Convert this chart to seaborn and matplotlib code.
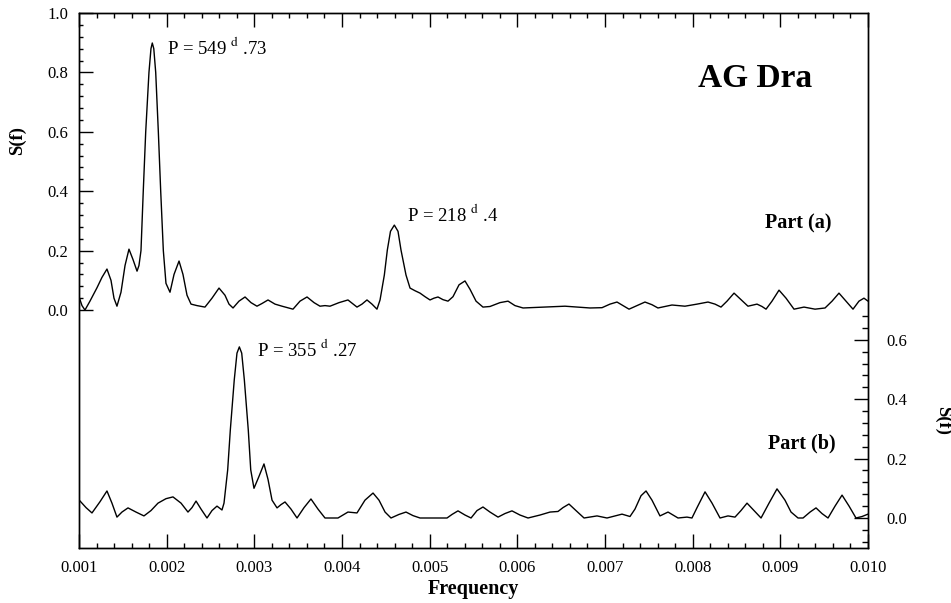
import numpy as np
import pandas as pd
import matplotlib
matplotlib.use("Agg")
import matplotlib.pyplot as plt
from matplotlib.ticker import FixedLocator, FormatStrFormatter
import seaborn as sns

# ---------------- data (frequency in units of 1e-3) ----------------
freq_a = [1.000, 1.034, 1.068, 1.125, 1.205, 1.262, 1.319, 1.365, 1.399, 1.433,
          1.479, 1.525, 1.570, 1.616, 1.662, 1.684, 1.707, 1.733, 1.761, 1.798,
          1.821, 1.836, 1.853, 1.875, 1.905, 1.932, 1.962, 1.992, 2.038, 2.084,
          2.141, 2.186, 2.232, 2.278, 2.346, 2.437, 2.517, 2.597, 2.665, 2.711,
          2.757, 2.825, 2.894, 2.962, 3.030, 3.087, 3.156, 3.236, 3.316, 3.441,
          3.521, 3.601, 3.681, 3.749, 3.806, 3.863, 3.966, 4.068, 4.171, 4.228,
          4.285, 4.342, 4.399, 4.434, 4.483, 4.517, 4.553, 4.597, 4.639, 4.673,
          4.730, 4.776, 4.833, 4.890, 4.947, 5.004, 5.049, 5.095, 5.152, 5.209,
          5.266, 5.335, 5.403, 5.460, 5.529, 5.608, 5.688, 5.802, 5.894, 5.973,
          6.065, 6.293, 6.544, 6.692, 6.829, 6.966, 7.057, 7.137, 7.205, 7.274,
          7.365, 7.456, 7.536, 7.604, 7.764, 7.912, 8.050, 8.175, 8.255, 8.323,
          8.392, 8.472, 8.551, 8.631, 8.734, 8.791, 8.837, 8.905, 8.985, 9.065,
          9.156, 9.270, 9.396, 9.510, 9.590, 9.669, 9.749, 9.829, 9.897, 9.954,
          10.000]
s_a = [0.045, 0.015, 0.000, 0.030, 0.075, 0.110, 0.138, 0.100, 0.040, 0.013,
       0.060, 0.150, 0.205, 0.170, 0.131, 0.150, 0.200, 0.400, 0.600, 0.800,
       0.880, 0.899, 0.880, 0.800, 0.600, 0.400, 0.200, 0.090, 0.060, 0.120,
       0.165, 0.120, 0.050, 0.020, 0.015, 0.010, 0.040, 0.074, 0.050, 0.020,
       0.007, 0.030, 0.044, 0.025, 0.013, 0.022, 0.034, 0.020, 0.013, 0.003,
       0.030, 0.044, 0.025, 0.013, 0.015, 0.013, 0.025, 0.034, 0.010, 0.020,
       0.034, 0.020, 0.003, 0.034, 0.118, 0.202, 0.265, 0.286, 0.265, 0.202,
       0.118, 0.074, 0.065, 0.057, 0.045, 0.034, 0.040, 0.044, 0.035, 0.030,
       0.045, 0.085, 0.098, 0.070, 0.030, 0.010, 0.012, 0.025, 0.030, 0.015,
       0.007, 0.010, 0.013, 0.010, 0.007, 0.008, 0.020, 0.027, 0.015, 0.003,
       0.015, 0.027, 0.018, 0.007, 0.017, 0.013, 0.020, 0.027, 0.020, 0.010,
       0.030, 0.057, 0.035, 0.013, 0.020, 0.012, 0.003, 0.030, 0.067, 0.040,
       0.003, 0.010, 0.003, 0.007, 0.030, 0.057, 0.030, 0.003, 0.030, 0.040,
       0.030]

freq_b = [1.000, 1.080, 1.148, 1.240, 1.319, 1.376, 1.433, 1.490, 1.559, 1.650,
          1.741, 1.821, 1.901, 1.992, 2.072, 2.164, 2.243, 2.289, 2.335, 2.392,
          2.460, 2.517, 2.574, 2.631, 2.654, 2.696, 2.726, 2.771, 2.802, 2.829,
          2.856, 2.886, 2.931, 2.959, 2.996, 3.053, 3.110, 3.156, 3.202, 3.259,
          3.304, 3.350, 3.418, 3.487, 3.567, 3.646, 3.726, 3.806, 3.954, 4.068,
          4.171, 4.262, 4.354, 4.422, 4.491, 4.559, 4.650, 4.730, 4.810, 4.890,
          5.198, 5.255, 5.323, 5.403, 5.472, 5.540, 5.608, 5.688, 5.780, 5.859,
          5.939, 6.030, 6.122, 6.259, 6.373, 6.464, 6.521, 6.589, 6.669, 6.761,
          6.909, 7.023, 7.194, 7.285, 7.342, 7.411, 7.468, 7.536, 7.627, 7.719,
          7.833, 7.935, 7.992, 8.050, 8.141, 8.221, 8.312, 8.403, 8.483, 8.551,
          8.620, 8.700, 8.780, 8.871, 8.962, 9.053, 9.122, 9.202, 9.259, 9.339,
          9.407, 9.475, 9.544, 9.624, 9.704, 9.784, 9.863, 9.932, 10.000]
s_b = [0.061, 0.035, 0.017, 0.055, 0.091, 0.050, 0.003, 0.020, 0.034, 0.020,
       0.007, 0.025, 0.050, 0.065, 0.071, 0.050, 0.020, 0.035, 0.057, 0.030,
       0.000, 0.025, 0.040, 0.027, 0.050, 0.162, 0.296, 0.465, 0.555, 0.576,
       0.555, 0.465, 0.296, 0.162, 0.100, 0.140, 0.182, 0.130, 0.060, 0.034,
       0.045, 0.054, 0.030, 0.000, 0.035, 0.064, 0.030, 0.000, 0.000, 0.020,
       0.017, 0.060, 0.084, 0.060, 0.020, 0.000, 0.012, 0.020, 0.008, 0.000,
       0.000, 0.012, 0.024, 0.010, 0.000, 0.025, 0.037, 0.020, 0.003, 0.015,
       0.024, 0.010, 0.000, 0.010, 0.020, 0.022, 0.035, 0.047, 0.025, 0.000,
       0.007, 0.000, 0.013, 0.005, 0.030, 0.075, 0.091, 0.060, 0.007, 0.020,
       0.000, 0.003, 0.000, 0.035, 0.088, 0.050, 0.000, 0.007, 0.003, 0.025,
       0.050, 0.025, 0.000, 0.050, 0.098, 0.060, 0.020, 0.000, 0.000, 0.020,
       0.034, 0.015, 0.000, 0.040, 0.077, 0.040, 0.000, 0.005, 0.013]

x_ticks = [0.001, 0.002, 0.003, 0.004, 0.005, 0.006, 0.007, 0.008, 0.009, 0.010]
left_ticks = [0.0, 0.2, 0.4, 0.6, 0.8, 1.0]
right_ticks = [0.0, 0.2, 0.4, 0.6]

df_a = pd.DataFrame({"Frequency": np.array(freq_a) * 1e-3, "S": s_a})
df_b = pd.DataFrame({"Frequency": np.array(freq_b) * 1e-3, "S": s_b})

# ---------------- style ----------------
sns.set_theme(style="white")
plt.rcParams["font.family"] = ["Liberation Serif", "DejaVu Serif"]
plt.rcParams["mathtext.fontset"] = "stix"
plt.rcParams["text.color"] = "black"
plt.rcParams["axes.labelcolor"] = "black"

fig = plt.figure(figsize=(9.51, 6.03), dpi=100)
ax = fig.add_axes([79 / 951, 1 - 548 / 603, (868 - 79) / 951, (548 - 13) / 603])
ax2 = ax.twinx()

sns.lineplot(data=df_a, x="Frequency", y="S", ax=ax, color="black", lw=1.0,
             sort=False, estimator=None)
sns.lineplot(data=df_b, x="Frequency", y="S", ax=ax2, color="black", lw=1.0,
             sort=False, estimator=None)

ax.set_xlim(0.001, 0.010)
ax.set_ylim(-0.801, 1.0)
ax2.set_ylim(-0.101, 1.70)

for a in (ax, ax2):
    for sp in a.spines.values():
        sp.set_color("black")
        sp.set_linewidth(1.0)
    a.set_xlabel("")
    a.set_ylabel("")

ax.xaxis.set_major_locator(FixedLocator(x_ticks))
ax.xaxis.set_minor_locator(FixedLocator(np.arange(1.0, 10.01, 0.2) * 1e-3))
ax.xaxis.set_major_formatter(FormatStrFormatter("%.3f"))
ax.yaxis.set_major_locator(FixedLocator(left_ticks))
ax.yaxis.set_minor_locator(FixedLocator(np.arange(0.0, 1.001, 0.04)))
ax.yaxis.set_major_formatter(FormatStrFormatter("%.1f"))
ax2.yaxis.set_major_locator(FixedLocator(right_ticks))
ax2.yaxis.set_minor_locator(FixedLocator(np.arange(-0.08, 0.70, 0.04)))
ax2.yaxis.set_major_formatter(FormatStrFormatter("%.1f"))

ax.tick_params(axis="x", which="both", direction="in", top=True, bottom=True,
               labelsize=12, colors="black", pad=9)
ax.tick_params(axis="x", which="major", length=10, width=1)
ax.tick_params(axis="x", which="minor", length=3.5, width=1)
ax.tick_params(axis="y", which="both", direction="in", left=True, right=False,
               labelsize=12, colors="black", pad=8)
ax.tick_params(axis="y", which="major", length=10, width=1)
ax.tick_params(axis="y", which="minor", length=3, width=1)
ax2.tick_params(axis="y", which="both", direction="in", right=True, left=False,
                labelsize=12, colors="black", pad=13)
ax2.tick_params(axis="y", which="major", length=10, width=1)
ax2.tick_params(axis="y", which="minor", length=4, width=1)

# ---------------- annotations ----------------
ax.text(2.004e-3, 0.862, "P = 549 $^{\\mathrm{d}}$ .73", fontsize=13.5, va="baseline", color="black")
ax.text(4.741e-3, 0.300, "P = 218 $^{\\mathrm{d}}$ .4", fontsize=13.5, va="baseline", color="black")
ax.text(3.03e-3, -0.155, "P = 355 $^{\\mathrm{d}}$ .27", fontsize=13.5, va="baseline", color="black")
ax.text(8.061e-3, 0.751, "AG Dra", fontsize=24, fontweight="bold", va="baseline", color="black")
ax.text(8.825e-3, 0.276, "Part (a)", fontsize=14.5, fontweight="bold", va="baseline", color="black")
ax.text(8.86e-3, -0.465, "Part (b)", fontsize=14.5, fontweight="bold", va="baseline", color="black")

fig.text(473 / 951, 1 - 589 / 603, "Frequency", fontsize=14.5, fontweight="bold",
         ha="center", va="center", color="black")
fig.text(17 / 951, 1 - 140 / 603, "S(f)", fontsize=13.5, fontweight="bold",
         ha="center", va="center", rotation=90, color="black")
fig.text(943 / 951, 1 - 420 / 603, "S(f)", fontsize=13.5, fontweight="bold",
         ha="center", va="center", rotation=-90, color="black")

fig.savefig("out.png", dpi=100)
